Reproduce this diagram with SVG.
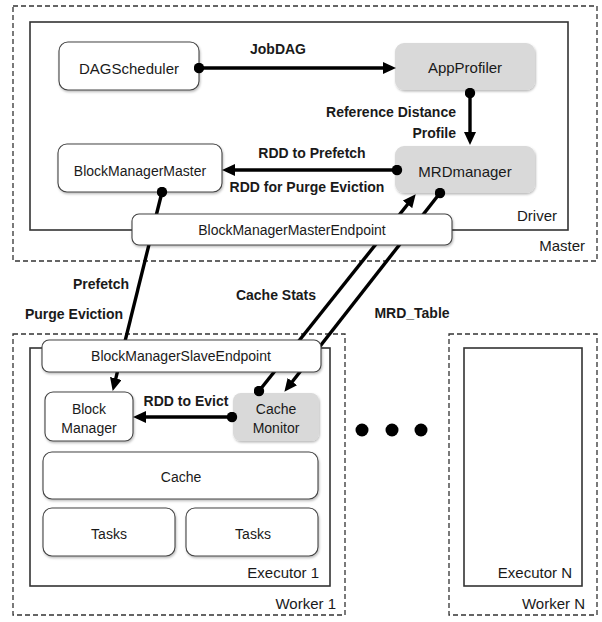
<svg xmlns="http://www.w3.org/2000/svg" width="602" height="622" viewBox="0 0 602 622">
<style>
text{font-family:"Liberation Sans",Arial,sans-serif;fill:#1a1a1a}
.n{font-size:14px;text-anchor:middle}
.n15{font-size:15px;text-anchor:middle}
.lb{font-size:14px;font-weight:bold;text-anchor:middle}
.ct{font-size:15px;text-anchor:end}
.dash{fill:none;stroke:#333;stroke-width:1.3;stroke-dasharray:5 3}
.solid{fill:none;stroke:#333;stroke-width:1.6}
.box{fill:#fff;stroke:#444;stroke-width:1.1;filter:url(#sh)}
.gray{fill:#d9d9d9;stroke:none;filter:url(#sh)}
.c{fill:none;stroke:#000;stroke-width:3.4}
</style>
<defs>
<filter id="sh" x="-10%" y="-10%" width="120%" height="130%"><feDropShadow dx="0.8" dy="1.5" stdDeviation="1.2" flood-color="#000" flood-opacity="0.28"/></filter>
<marker id="arr" markerUnits="userSpaceOnUse" markerWidth="13" markerHeight="12" viewBox="0 0 13 12" refX="6" refY="6" orient="auto"><path d="M0,0 L13,6 L0,12 z" fill="#000"/></marker>
<marker id="dot" markerUnits="userSpaceOnUse" markerWidth="11" markerHeight="11" viewBox="0 0 11 11" refX="5.5" refY="5.5"><circle cx="5.5" cy="5.5" r="5.2" fill="#000"/></marker>
</defs>

<g id="master"><rect class="dash" x="13" y="6" width="584" height="255"/><text class="ct" x="585" y="251">Master</text></g>
<g id="driver"><rect class="solid" x="30" y="22" width="538" height="208"/><text class="ct" x="557" y="221">Driver</text></g>
<g id="worker1"><rect class="dash" x="13" y="334" width="332" height="281"/><text class="ct" x="336" y="609">Worker 1</text></g>
<g id="executor1"><rect class="solid" x="30" y="348" width="300" height="238"/><text class="ct" x="319" y="578">Executor 1</text></g>
<g id="workerN"><rect class="dash" x="449" y="334" width="148" height="281"/><text class="ct" x="585" y="609">Worker N</text></g>
<g id="executorN"><rect class="solid" x="464" y="348" width="118" height="238"/><text class="ct" x="572" y="578">Executor N</text></g>

<g id="dagscheduler"><rect class="box" x="59" y="42" width="140" height="48" rx="9"/><text class="n15" x="129" y="74">DAGScheduler</text></g>
<g id="appprofiler"><rect class="gray" x="395" y="43" width="140" height="47" rx="9"/><text class="n15" x="465" y="73">AppProfiler</text></g>
<g id="blockmanagermaster"><rect class="box" x="58" y="144" width="164" height="48" rx="9"/><text class="n" x="140" y="176">BlockManagerMaster</text></g>
<g id="mrdmanager"><rect class="gray" x="395" y="146" width="140" height="47" rx="9"/><text class="n15" x="465" y="177">MRDmanager</text></g>
<g id="blockmanager"><rect class="box" x="45" y="392" width="88" height="49" rx="8"/><text class="n" x="89" y="414">Block</text><text class="n" x="89" y="433">Manager</text></g>
<g id="cachemonitor"><rect class="gray" x="233" y="393" width="86" height="48" rx="8"/><text class="n" x="276" y="414">Cache</text><text class="n" x="276" y="433">Monitor</text></g>
<g id="cache"><rect class="box" x="43" y="452" width="275" height="47" rx="9"/><text class="n" x="181" y="482">Cache</text></g>
<g id="tasks1"><rect class="box" x="43" y="508" width="132" height="48" rx="9"/><text class="n" x="109" y="539">Tasks</text></g>
<g id="tasks2"><rect class="box" x="186" y="508" width="132" height="48" rx="9"/><text class="n" x="253" y="539">Tasks</text></g>

<g id="connectors">
<line class="c" x1="199" y1="68" x2="389" y2="68" marker-start="url(#dot)" marker-end="url(#arr)"/>
<line class="c" x1="470" y1="93" x2="470" y2="138" marker-start="url(#dot)" marker-end="url(#arr)"/>
<line class="c" x1="397" y1="170" x2="229" y2="170" marker-start="url(#dot)" marker-end="url(#arr)"/>
<line class="c" x1="162" y1="192" x2="114.4" y2="384.2" marker-start="url(#dot)" marker-end="url(#arr)"/>
<line class="c" x1="259" y1="391" x2="411.3" y2="199.7" marker-start="url(#dot)" marker-end="url(#arr)"/>
<line class="c" x1="440" y1="193" x2="288.7" y2="386.3" marker-start="url(#dot)" marker-end="url(#arr)"/>
<line class="c" x1="232" y1="417" x2="140" y2="417" marker-start="url(#dot)" marker-end="url(#arr)"/>
<text class="lb" x="278" y="54">JobDAG</text>
<text class="lb" x="456" y="117" style="text-anchor:end">Reference Distance</text>
<text class="lb" x="456" y="138" style="text-anchor:end">Profile</text>
<text class="lb" x="312" y="158">RDD to Prefetch</text>
<text class="lb" x="307" y="192">RDD for Purge Eviction</text>
<text class="lb" x="101" y="289">Prefetch</text>
<text class="lb" x="74" y="319">Purge Eviction</text>
<text class="lb" x="276" y="300">Cache Stats</text>
<text class="lb" x="412" y="318">MRD_Table</text>
<text class="lb" x="186" y="406">RDD to Evict</text>
</g>

<g id="blockmanagermasterendpoint"><rect class="box" x="132" y="214" width="320" height="31" rx="7"/><text class="n" x="292" y="235">BlockManagerMasterEndpoint</text></g>
<g id="blockmanagerslaveendpoint"><rect class="box" x="42" y="340" width="279" height="32" rx="7"/><text class="n" x="181" y="361">BlockManagerSlaveEndpoint</text></g>

<g id="ellipsis"><circle cx="362" cy="430" r="6.5" fill="#000"/><circle cx="392" cy="430" r="6.5" fill="#000"/><circle cx="421" cy="430" r="6.5" fill="#000"/></g>
</svg>
